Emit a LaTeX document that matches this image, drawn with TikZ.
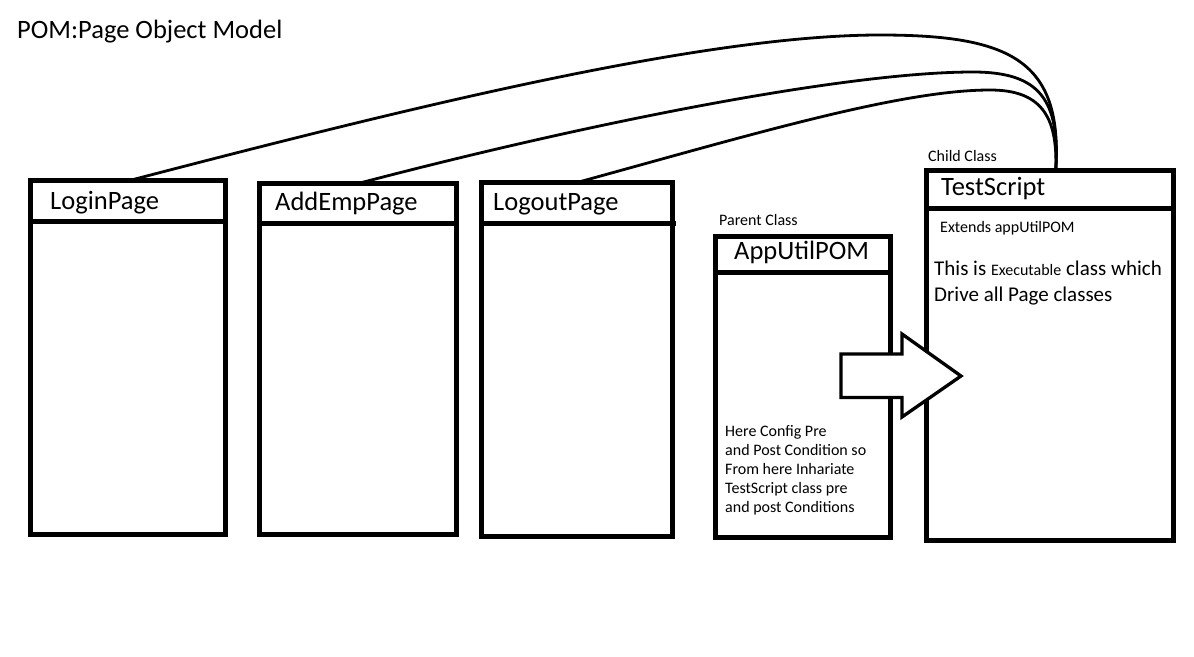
\documentclass[tikz,border=0pt]{standalone}
\usepackage{fontspec}
\setmainfont{Carlito}
\begin{document}
\begin{tikzpicture}[x=1pt,y=-1pt,
  classbox/.style={draw, line width=5pt, inner sep=0pt, outer sep=0pt},
  hdr/.style={anchor=base west, inner sep=0pt, font=\fontsize{26.5}{30}\selectfont},
  small/.style={anchor=base west, inner sep=0pt, font=\fontsize{16}{19}\selectfont},
  link/.style={line width=2.8pt, line cap=round},
  sepline/.style={line width=5pt},
  blockarrow/.style={line width=3.3pt, fill=white, line join=miter}]
\useasboundingbox[fill=white] (0,0) rectangle (1194,656);

% class boxes
\node[classbox, minimum width=195pt, minimum height=353.7pt] (login) at (128.3,357.65) {};
\node[classbox, minimum width=197pt, minimum height=351pt] (addemp) at (358,359) {};
\node[classbox, minimum width=191pt, minimum height=354pt] (logout) at (577,359.5) {};
\node[classbox, minimum width=175.3pt, minimum height=301pt] (apputil) at (803.15,387) {};
\node[classbox, minimum width=247.5pt, minimum height=370pt] (ts) at (1049.75,355.5) {};

% header separators
\draw[sepline] ([yshift=-41pt]login.north west) -- ([yshift=-41pt]login.north east);
\draw[sepline] ([yshift=-39.5pt]addemp.north west) -- ([yshift=-39.5pt]addemp.north east);
\draw[sepline] ([yshift=-40.5pt]logout.north west) -- ([yshift=-40.5pt,xshift=3pt]logout.north east);
\draw[sepline] ([yshift=-35.5pt]apputil.north west) -- ([yshift=-35.5pt]apputil.north east);
\draw[sepline] ([yshift=-37.5pt]ts.north west) -- ([yshift=-37.5pt]ts.north east);

% connectors
\draw[link] (login.north) .. controls (400,110) and (700,35) .. (880,35)
  .. controls (1010,35) and (1063,60) .. ([xshift=6pt]ts.north);
\draw[link] (addemp.north) .. controls (600,120) and (850,72) .. (973,72)
  .. controls (1040,72) and (1060,100) .. ([xshift=6pt]ts.north);
\draw[link] (logout.north) .. controls (750,135) and (900,90) .. (990,90)
  .. controls (1040,90) and (1058,115) .. ([xshift=6pt]ts.north);

% block arrow
\draw[blockarrow] (841,354) -- (902,354) -- (902,334) -- (961,376) -- (902,417) -- (902,397.5) -- (841,397.5) -- cycle;

% texts
\node[hdr] (title) at (17,38) {POM:Page Object Model};
\node[hdr] (tlogin) at (50,209) {LoginPage};
\node[hdr] (taddemp) at (275,210) {AddEmpPage};
\node[hdr] (tlogout) at (493,210) {LogoutPage};
\node[hdr] (tapputil) at (734,259) {AppUtilPOM};
\node[hdr] (tts) at (941,195) {TestScript};
\node[small] (parent) at (719,225) {Parent Class};
\node[small] (child) at (928,161) {Child Class};
\node[small] (ext) at (940,232) {Extends appUtilPOM};
\node[anchor=base west, inner sep=0pt] (desc) at (934,275)
  {\fontsize{21}{26}\selectfont\vtop{\hbox{This is {\fontsize{16}{19}\selectfont Executable} class which}\hbox{Drive all Page classes}}};
\node[anchor=base west, inner sep=0pt] (cond) at (725,436)
  {\fontsize{16}{19}\selectfont\vtop{\hbox{Here Config Pre}\hbox{and Post Condition so}\hbox{From here Inhariate}\hbox{TestScript class pre}\hbox{and post Conditions}}};
\end{tikzpicture}
\end{document}
